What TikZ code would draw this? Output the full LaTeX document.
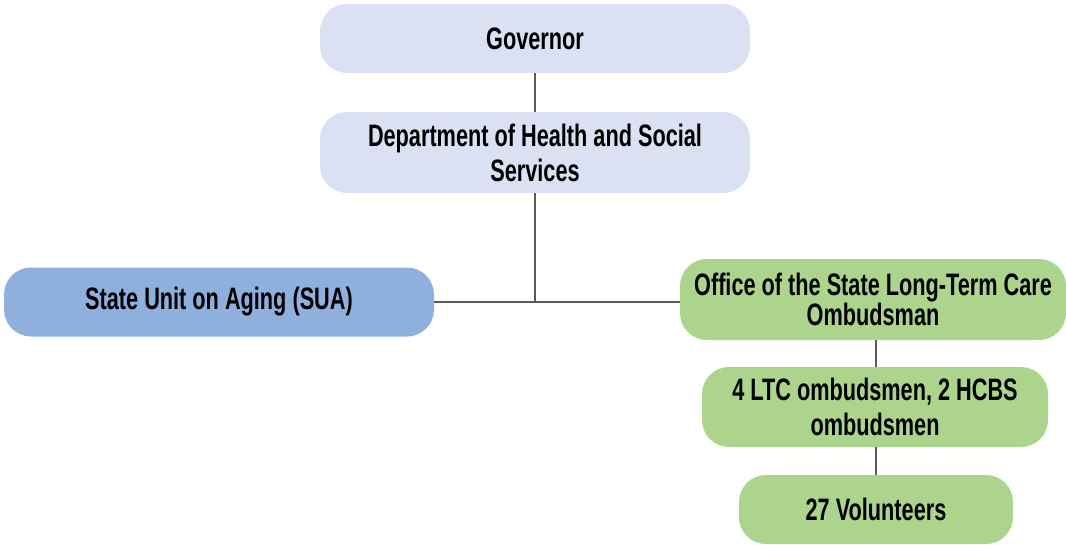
\documentclass[tikz,border=0pt]{standalone}
\usepackage{fontspec}
\setmainfont[FakeStretch=0.7]{Liberation Sans}
\definecolor{lblue}{HTML}{D9E1F2}
\definecolor{mblue}{HTML}{8FB0DD}
\definecolor{lgreen}{HTML}{ACD48C}
\definecolor{linegray}{HTML}{5A5A5A}
\begin{document}
\begin{tikzpicture}[x=1pt,y=-1pt,
  box/.style={rounded corners=27pt, inner sep=0pt, align=center,
    font=\fontsize{31}{35}\selectfont\bfseries, text=black},
  link/.style={draw=linegray, line width=2pt}]
\useasboundingbox (0,0) rectangle (1066,544);
\node[box, fill=lblue, minimum width=430pt, minimum height=69pt] (gov) at (535,38.5) {Governor};
\node[box, fill=lblue, minimum width=430pt, minimum height=81pt] (dept) at (535,152.5) {Department of Health and Social\\Services};
\node[box, fill=mblue, minimum width=430pt, minimum height=69pt] (sua) at (219,302) {State Unit on Aging (SUA)};
\node[box, fill=lgreen, minimum width=386pt, minimum height=81pt, font=\fontsize{31}{30}\selectfont\bfseries] (office) at (873,299.5) {Office of the State Long-Term Care\\Ombudsman};
\node[box, fill=lgreen, minimum width=346pt, minimum height=80pt] (ltc) at (875,407) {4 LTC ombudsmen, 2 HCBS\\ombudsmen};
\node[box, fill=lgreen, minimum width=274pt, minimum height=69pt] (vol) at (876,509.5) {27 Volunteers};
\coordinate (j) at (535,302);
\draw[link] (gov) -- (dept);
\draw[link] (dept.south) -- (j);
\draw[link] (sua.east) -- (sua.east -| office.west);
\draw[link] (office.south -| vol) -- (ltc.north -| vol);
\draw[link] (ltc.south -| vol) -- (vol.north);
\end{tikzpicture}
\end{document}
